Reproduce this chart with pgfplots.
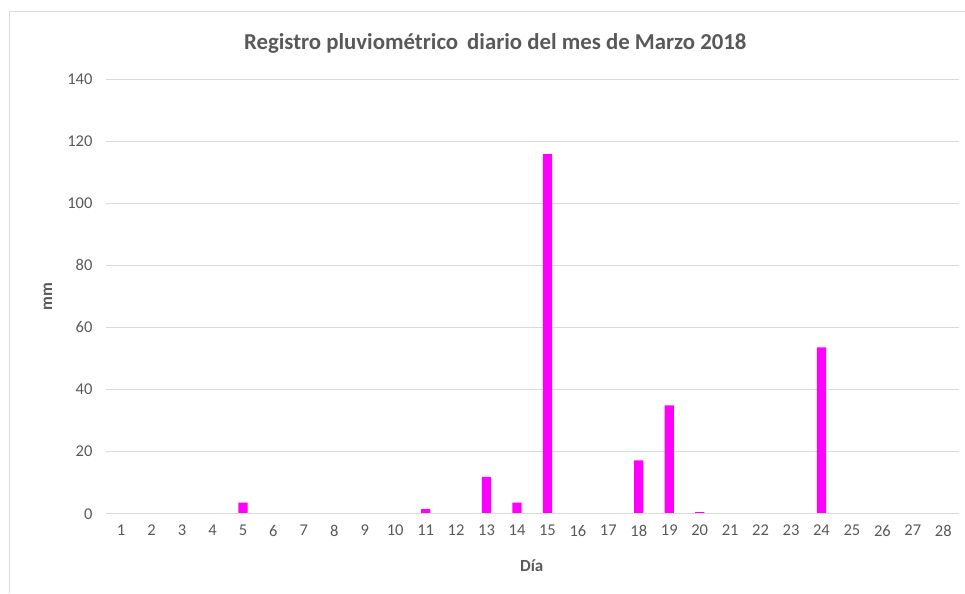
\documentclass[border=0pt]{standalone}
\usepackage{pgfplots}
\pgfplotsset{compat=1.18}
\usepackage{fontspec}
\setmainfont{Carlito}
\definecolor{txt}{HTML}{595959}
\definecolor{gridc}{HTML}{D9D9D9}
\definecolor{barc}{HTML}{FF00FF}
\begin{document}
\begin{tikzpicture}[x=1pt,y=1pt]
\begin{axis}[
  at={(0,0)}, anchor=south west,
  scale only axis, width=853pt, height=435pt,
  ybar, bar width=9.3pt,
  xmin=0.5, xmax=28.5, ymin=0, ymax=140,
  ytick={0,20,...,140},
  xtick={1,...,28},
  axis line style={draw=none},
  ymajorgrids=true, xmajorgrids=false,
  major grid style={draw=gridc, line width=0.9pt},
  major tick length=0pt,
  tick label style={font=\fontsize{16.5}{18}\selectfont, text=txt},
  /pgf/number format/assume math mode=true,
  yticklabel style={xshift=-10pt},
  xticklabel style={yshift=-8pt},
  clip=false,
]
\addplot[fill=barc, draw=none] coordinates {
(5,3.6) (11,1.5) (13,11.9) (14,3.6) (15,115.8) (18,17.2) (19,34.9) (20,0.5) (24,53.6)
};
\draw[gridc, line width=0.9pt] (axis cs:0.5,0) -- (axis cs:28.5,0);
\end{axis}
% pixel (X,Y) -> (X-106, 514-Y)
\node[font=\bfseries\fontsize{22.8}{26}\selectfont, text=txt] at (389.5,471) {Registro pluviométrico\, diario del mes de Marzo 2018};
\node[font=\bfseries\fontsize{17}{20}\selectfont, text=txt, rotate=90] at (-58,217) {mm};
\node[font=\bfseries\fontsize{17}{20}\selectfont, text=txt] at (426,-52) {Día};
\draw[gridc, line width=1pt] (-96,-79) -- (-96,502) -- (859,502);
\path (-106,-79) rectangle (859,514);
\end{tikzpicture}
\end{document}
